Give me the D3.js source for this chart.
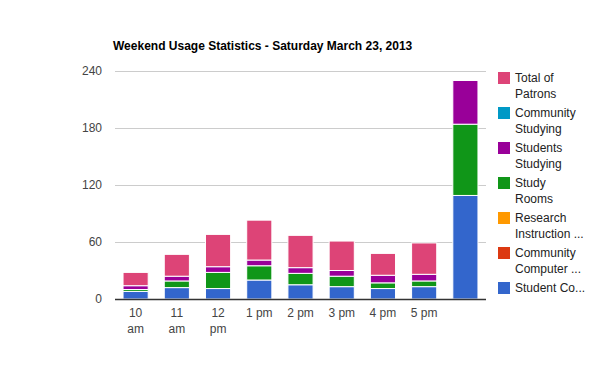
<!DOCTYPE html>
<html>
<head>
<meta charset="utf-8">
<script src="https://cdn.jsdelivr.net/npm/d3@7.9.0/dist/d3.min.js"></script>
<style>
  body { margin: 0; background: #fff; }
  svg { font-family: "Liberation Sans", Arial, sans-serif; }
</style>
</head>
<body>
<svg id="chart" width="600" height="371"></svg>
<script>
const hours = ["10 am", "11 am", "12 pm", "1 pm", "2 pm", "3 pm", "4 pm", "5 pm", ""];

const studentComputer = [8, 12, 11, 20, 15, 13, 11, 13, 109];
const communityComputer = [0, 0, 0, 0, 0, 0, 0, 0, 0];
const researchInstruction = [0, 0, 0, 0, 0, 0, 0, 0, 0];
const studyRooms = [2, 7, 17, 15, 12, 11, 6, 6, 75];
const studentsStudying = [4, 5, 6, 6, 6, 6, 8, 7, 46];
const communityStudying = [0, 0, 0, 0, 0, 0, 0, 0, 0];
const totalPatrons = [14, 23, 34, 42, 34, 31, 23, 33, 0];

const yTicks = [0, 60, 120, 180, 240];

const series = [
  { name: "Student Co...", color: "#3366cc", values: studentComputer },
  { name: "Community Computer ...", color: "#dc3912", values: communityComputer },
  { name: "Research Instruction ...", color: "#ff9900", values: researchInstruction },
  { name: "Study Rooms", color: "#109618", values: studyRooms },
  { name: "Students Studying", color: "#990099", values: studentsStudying },
  { name: "Community Studying", color: "#0099c6", values: communityStudying },
  { name: "Total of Patrons", color: "#dd4477", values: totalPatrons }
];

const legendLines = {
  "Total of Patrons": ["Total of", "Patrons"],
  "Community Studying": ["Community", "Studying"],
  "Students Studying": ["Students", "Studying"],
  "Study Rooms": ["Study", "Rooms"],
  "Research Instruction ...": ["Research", "Instruction ..."],
  "Community Computer ...": ["Community", "Computer ..."],
  "Student Co...": ["Student Co..."]
};

const svg = d3.select("#chart");
const margin = { left: 115, right: 114, top: 71, bottom: 72 };
const width = 600 - margin.left - margin.right;
const height = 371 - margin.top - margin.bottom;

svg.append("text")
  .attr("x", 113)
  .attr("y", 50)
  .attr("font-size", 12)
  .attr("font-weight", "bold")
  .attr("fill", "#000")
  .text("Weekend Usage Statistics - Saturday March 23, 2013");

const g = svg.append("g").attr("transform", `translate(${margin.left},${margin.top})`);

const x = d3.scaleBand()
  .domain(d3.range(hours.length))
  .range([0, width])
  .paddingInner(0.39)
  .paddingOuter(0.195);

const y = d3.scaleLinear().domain([0, 240]).range([height, 0]);

// gridlines
g.append("g")
  .selectAll("line")
  .data(yTicks.filter(d => d > 0))
  .join("line")
  .attr("x1", 0)
  .attr("x2", width)
  .attr("y1", d => Math.round(y(d)) + 0.5)
  .attr("y2", d => Math.round(y(d)) + 0.5)
  .attr("stroke", "#cccccc");

// y labels
g.append("g")
  .selectAll("text")
  .data(yTicks)
  .join("text")
  .attr("x", -13)
  .attr("y", d => y(d))
  .attr("dy", "0.35em")
  .attr("text-anchor", "end")
  .attr("font-size", 12)
  .attr("fill", "#444")
  .text(d => d);

// stacked bars
const stack = d3.stack()
  .keys(d3.range(series.length))
  .value((i, k) => series[k].values[i]);
const stacked = stack(d3.range(hours.length));

g.append("g")
  .selectAll("g")
  .data(stacked)
  .join("g")
  .attr("fill", (d, k) => series[k].color)
  .selectAll("rect")
  .data(d => d.filter(s => s[1] - s[0] > 0).map(s => ({ s, i: s.data })))
  .join("rect")
  .attr("x", d => x(d.i))
  .attr("width", x.bandwidth())
  .attr("y", d => y(d.s[1]))
  .attr("height", d => y(d.s[0]) - y(d.s[1]))
  .attr("stroke", "#fff")
  .attr("stroke-width", 1);

// baseline
g.append("line")
  .attr("x1", 0)
  .attr("x2", width)
  .attr("y1", height + 0.5)
  .attr("y2", height + 0.5)
  .attr("stroke", "#333")
  .attr("stroke-width", 1.5);

// x labels
const xLabels = g.append("g")
  .selectAll("text")
  .data(hours.map((h, i) => ({ h, i })))
  .join("text")
  .attr("text-anchor", "middle")
  .attr("font-size", 12)
  .attr("fill", "#444")
  .attr("transform", d => `translate(${x(d.i) + x.bandwidth() / 2},${height + 18})`);

xLabels.each(function (d) {
  const parts = d.h.length > 4 ? d.h.split(" ") : [d.h];
  d3.select(this).selectAll("tspan")
    .data(parts)
    .join("tspan")
    .attr("x", 0)
    .attr("dy", (p, j) => (j === 0 ? 0 : 16))
    .text(p => p);
});

// legend
const legend = svg.append("g").attr("transform", "translate(498,72)");
const entries = legend.selectAll("g")
  .data(series.slice().reverse())
  .join("g")
  .attr("transform", (d, k) => `translate(0,${k * 35})`);

entries.append("rect")
  .attr("width", 12)
  .attr("height", 12)
  .attr("fill", d => d.color);

entries.append("text")
  .attr("x", 17)
  .attr("y", 10)
  .attr("font-size", 12)
  .attr("fill", "#222")
  .selectAll("tspan")
  .data(d => legendLines[d.name])
  .join("tspan")
  .attr("x", 17)
  .attr("dy", (p, j) => (j === 0 ? 0 : 16))
  .text(p => p);
</script>
</body>
</html>
